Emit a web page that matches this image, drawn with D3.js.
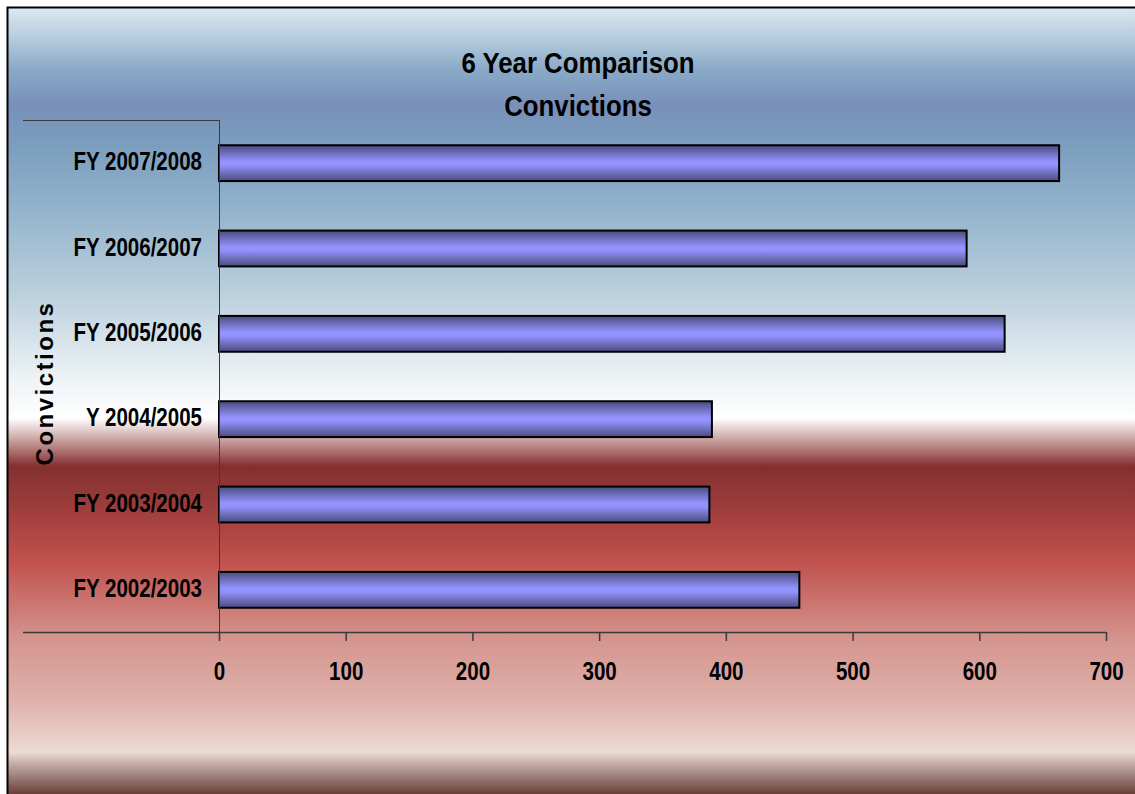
<!DOCTYPE html>
<html><head><meta charset="utf-8">
<script src="https://cdn.jsdelivr.net/npm/d3@7"></script>
<style>
html,body{margin:0;padding:0;background:#fff;}
svg{display:block;}
</style></head>
<body>
<svg id="chart" width="1135" height="794"></svg>
<script>
const categories = ["FY 2007/2008","FY 2006/2007","FY 2005/2006","Y 2004/2005","FY 2003/2004","FY 2002/2003"];
const values = [663, 590, 620, 389, 387, 458];
const xTicks = [0,100,200,300,400,500,600,700];
const titleLines = ["6 Year Comparison","Convictions"];
const axisTitle = "Convictions";

(function(){
const W = 1135, H = 794;
const svg = d3.select("#chart");
const defs = svg.append("defs");
const font = "'Liberation Sans Narrow','Arial Narrow','Liberation Sans',Arial,sans-serif";
const SX = 0.79; // horizontal condensing to mimic a narrow face

const bg = defs.append("linearGradient").attr("id","bg")
  .attr("gradientUnits","userSpaceOnUse").attr("x1",0).attr("x2",0).attr("y1",8).attr("y2",794);
const bgStops = [[8,"#dce8f1"],[40,"#b2cadd"],[70,"#8aa9c6"],[105,"#7890b9"],[140,"#7a9cbd"],[200,"#8fb0c9"],[300,"#bed2df"],[380,"#eef3f6"],[418,"#ffffff"],[440,"#c9a2a0"],[466,"#843030"],[500,"#983b3a"],[560,"#c0504d"],[640,"#d5958f"],[700,"#dfb0aa"],[752,"#ecdbd4"],[765,"#c0a8a2"],[794,"#6a4038"]];
bgStops.forEach(s => bg.append("stop").attr("offset", ((s[0]-8)/(794-8))).attr("stop-color", s[1]));

const bgr = defs.append("linearGradient").attr("id","bar").attr("x1",0).attr("y1",0).attr("x2",0).attr("y2",1);
[[0,"#4a4a80"],[0.18,"#6868b0"],[0.45,"#9393ff"],[0.55,"#9393ff"],[0.82,"#6868b0"],[1,"#4a4a80"]]
  .forEach(s => bgr.append("stop").attr("offset", s[0]).attr("stop-color", s[1]));

svg.append("rect").attr("x",7.5).attr("y",7.5).attr("width",W).attr("height",H)
  .attr("fill","url(#bg)").attr("stroke","#000").attr("stroke-width",2);

const pl = 219, pr = 1106, pt = 120, pb = 632;
const x = d3.scaleLinear().domain([0,700]).range([pl,pr]);
const y = d3.scaleBand().domain(categories).range([pt,pb]).paddingInner(0.58).paddingOuter(0.29);

svg.append("g").selectAll("rect").data(categories).join("rect")
  .attr("x", x(0)).attr("y", d => y(d) + 0.5)
  .attr("width", (d,i) => x(values[i]) - x(0)).attr("height", y.bandwidth())
  .attr("fill","url(#bar)").attr("stroke","#000").attr("stroke-width",2);

const axc = "#3a3a3a";
svg.append("line").attr("x1",23).attr("x2",pl).attr("y1",pt+0.5).attr("y2",pt+0.5).attr("stroke",axc);
svg.append("line").attr("x1",pl+0.5).attr("x2",pl+0.5).attr("y1",pt).attr("y2",pb).attr("stroke",axc);

const xAxis = d3.axisBottom(x).tickValues(xTicks).tickSizeInner(9).tickSizeOuter(0).tickPadding(21);
const gx = svg.append("g").attr("transform",`translate(0,${pb})`).call(xAxis);
gx.select(".domain").remove();
gx.append("line").attr("x1",23).attr("x2",pr).attr("y1",0.5).attr("y2",0.5).attr("stroke",axc).attr("stroke-width",1.5);
gx.selectAll(".tick line").attr("stroke",axc).attr("stroke-width",1.5);
gx.selectAll(".tick text").attr("fill","#000").attr("font-family",font).attr("font-weight","bold").attr("font-size",26)
  .attr("transform",`scale(${SX},1)`);

const yAxis = d3.axisLeft(y).tickSize(0).tickPadding(17);
const gy = svg.append("g").attr("transform",`translate(${pl},0)`).call(yAxis);
gy.select(".domain").remove();
gy.selectAll(".tick text").attr("fill","#000").attr("font-family",font).attr("font-weight","bold").attr("font-size",26)
  .attr("x", -17 / SX).attr("dy","0.3em").attr("transform",`scale(${SX},1)`);

svg.append("g").selectAll("text").data(titleLines).join("text")
  .attr("transform",(d,i)=>`translate(578,${73+i*43}) scale(0.86,1)`).attr("text-anchor","middle")
  .attr("font-family",font).attr("font-weight","bold").attr("font-size",30).attr("fill","#000").text(d=>d);

svg.append("text").attr("transform","translate(53,383) rotate(-90)").attr("text-anchor","middle")
  .attr("font-family","'Liberation Sans',Arial,sans-serif").attr("font-weight","bold").attr("font-size",24)
  .attr("letter-spacing",2.5).attr("fill","#000").text(axisTitle);
})();
</script>
</body></html>
